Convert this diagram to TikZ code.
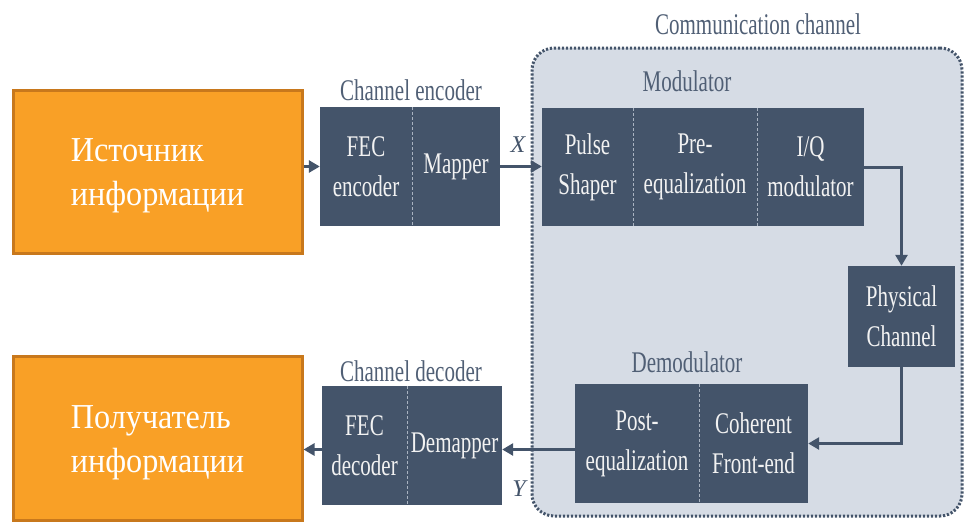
\documentclass[tikz,border=0pt]{standalone}
\usepackage{fontspec}
\setmainfont{Liberation Serif}
\newfontfamily\cond[FakeStretch=0.7]{Liberation Serif}
\newfontfamily\rufont[FakeStretch=0.92]{Liberation Serif}
\usetikzlibrary{arrows.meta}
\definecolor{slate}{HTML}{44546A}
\definecolor{labgray}{HTML}{505F75}
\definecolor{chanfill}{HTML}{D6DCE5}
\definecolor{orfill}{HTML}{F9A026}
\definecolor{ordraw}{HTML}{C8781C}
\definecolor{boxtext}{HTML}{F2F2F2}
\definecolor{divline}{HTML}{A9B3C1}
\begin{document}
\begin{tikzpicture}[x=1pt,y=-1pt,
  cell/.style={fill=slate, draw=none, inner sep=0pt, text=boxtext, align=center,
    font=\cond\fontsize{30}{40}\selectfont},
  orbox/.style={fill=orfill, draw=ordraw, line width=3pt, inner sep=0pt},
  ortext/.style={inner sep=0pt, text=white, align=left,
    font=\rufont\fontsize{35}{44}\selectfont},
  lab/.style={text=labgray, inner sep=0pt, font=\cond\fontsize{30}{36}\selectfont},
  sym/.style={text=slate, inner sep=0pt, font=\fontsize{24}{28}\selectfont\itshape},
  arr/.style={draw=slate, line width=3pt, -{Triangle[length=11pt,width=12pt]}},
  divider/.style={draw=divline, line width=1pt, dash pattern=on 3pt off 2pt},
]
\useasboundingbox (0,0) rectangle (965,525);

% communication channel frame
\node[draw=slate, fill=chanfill, line width=3pt, dash pattern=on 2.2pt off 1.8pt,
  rounded corners=22pt, minimum width=430pt, minimum height=468pt, inner sep=0pt]
  (chan) at (747,282) {};
\node[lab] (chanlab) at (758,24) {Communication channel};

% sources
\node[orbox, minimum width=289pt, minimum height=163pt] (src) at (157.5,171.5) {};
\node[ortext] (srctext) at ([yshift=-4pt]src.center) {Источник\\информации};
\node[orbox, minimum width=289pt, minimum height=164pt] (dst) at (157.5,438) {};
\node[ortext] (dsttext) at ([yshift=-5pt]dst.center) {Получатель\\информации};

% channel encoder
\node[cell, minimum width=92pt, minimum height=119pt] (fecenc) at (366,166.5) {FEC\\encoder};
\node[cell, minimum width=88pt, minimum height=119pt] (mapper) at (456,166.5) {Mapper};
\draw[divider] (fecenc.north east) -- (fecenc.south east);
\node[lab] (enclab) at (411,90) {Channel encoder};

% modulator
\node[cell, minimum width=91pt, minimum height=118pt] (pulse) at (587.5,167) {Pulse\\Shaper};
\node[cell, minimum width=124pt, minimum height=118pt] (preeq) at (695,167) {Pre-\\equalization};
\node[cell, minimum width=107pt, minimum height=118pt] (iq) at (810.5,167) {I/Q\\modulator};
\draw[divider] (pulse.north east) -- (pulse.south east);
\draw[divider] (preeq.north east) -- (preeq.south east);
\node[lab] (modlab) at (687,81) {Modulator};

% physical channel
\node[cell, minimum width=107pt, minimum height=101pt] (phys) at (901.5,316.5) {Physical\\Channel};

% demodulator
\node[cell, minimum width=124pt, minimum height=119pt] (posteq) at (637,443.5) {Post-\\equalization};
\node[cell, minimum width=109pt, minimum height=119pt] (coh) at (753.5,443.5) {Coherent\\Front-end};
\draw[divider] (posteq.north east) -- (posteq.south east);
\node[lab] (demlab) at (687,362) {Demodulator};

% channel decoder
\node[cell, minimum width=85pt, minimum height=119pt] (fecdec) at (364.5,445.5) {FEC\\decoder};
\node[cell, minimum width=95pt, minimum height=119pt] (demap) at (454.5,445.5) {Demapper};
\draw[divider] (fecdec.north east) -- (fecdec.south east);
\node[lab] (declab) at (411,371) {Channel decoder};

% symbols
\node[sym] (xlab) at (518,145) {X};
\node[sym] (ylab) at (519,489) {Y};

% connectors
\draw[arr] (fecenc.west -| src.east) -- (fecenc.west);
\draw[arr] (mapper.east) -- (mapper.east -| pulse.west);
\draw[arr] (iq.east) -| (phys.north);
\draw[arr] (phys.south) |- (coh.east);
\coordinate (dmy) at ([yshift=-4pt]demap.east);
\draw[arr] (dmy -| posteq.west) -- (dmy);
\draw[arr] (dmy -| fecdec.west) -- (dmy -| dst.east);
\end{tikzpicture}
\end{document}
